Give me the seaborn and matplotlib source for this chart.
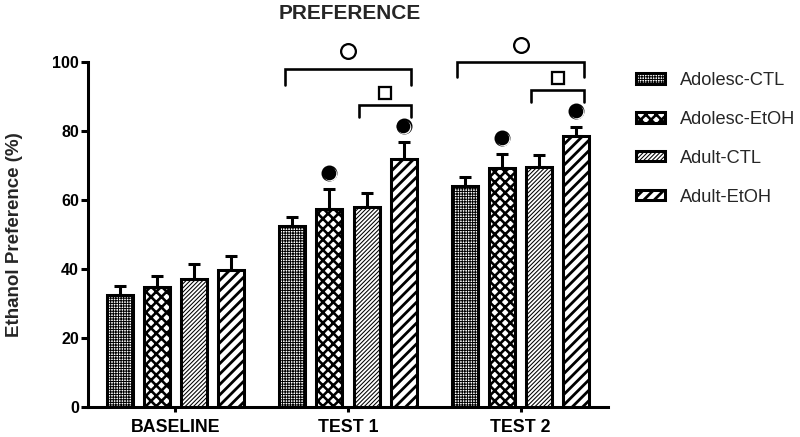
import numpy as np
import pandas as pd
import matplotlib
matplotlib.use("Agg")
import matplotlib.pyplot as plt
import matplotlib.transforms as mtrans
from matplotlib.patches import Patch
import seaborn as sns

# ---------------- data ----------------
phases = ["BASELINE", "TEST 1", "TEST 2"]
groups = ["Adolesc-CTL", "Adolesc-EtOH", "Adult-CTL", "Adult-EtOH"]
adolesc_ctl = [32.5, 52.6, 64.2]
adolesc_etoh = [34.7, 57.5, 69.2]
adult_ctl = [37.1, 58.1, 69.6]
adult_etoh = [39.6, 72.0, 78.6]
adolesc_ctl_sem = [2.7, 2.5, 2.4]
adolesc_etoh_sem = [3.4, 5.7, 4.1]
adult_ctl_sem = [4.3, 4.0, 3.3]
adult_etoh_sem = [4.1, 4.8, 2.6]

means = [adolesc_ctl, adolesc_etoh, adult_ctl, adult_etoh]
sems = [adolesc_ctl_sem, adolesc_etoh_sem, adult_ctl_sem, adult_etoh_sem]

rows = []
for g, vals in zip(groups, means):
    for p, v in zip(phases, vals):
        rows.append({"phase": p, "group": g, "value": v})
df = pd.DataFrame(rows)

# ---------------- style ----------------
DPI = 125
sns.set_style("white")
plt.rcParams["font.family"] = ["Liberation Sans", "DejaVu Sans"]
plt.rcParams["hatch.color"] = "black"

LW = 1.75  # pt (about 3 px)
fig = plt.figure(figsize=(800 / DPI, 437 / DPI), dpi=DPI)
ax = fig.add_axes([88 / 800, 1 - 407 / 437, 520 / 800, (407 - 62) / 437])

sns.barplot(data=df, x="phase", y="value", hue="group", order=phases,
            hue_order=groups, palette=["white"] * 4, width=0.86, gap=0.3,
            errorbar=None, edgecolor="black", linewidth=LW, legend=False,
            saturation=1, ax=ax)

hatches = ["+" * 8, "xxxx", "/" * 10, "////"]
hatch_lw = [0.55, 1.5, 0.6, 1.6]

for cont, h, hl, errs in zip(ax.containers, hatches, hatch_lw, sems):
    for bar, e in zip(cont, errs):
        bar.set_hatch(h)
        bar.set_facecolor("white")
        bar.set_edgecolor("black")
        if hasattr(bar, "set_hatch_linewidth"):
            bar.set_hatch_linewidth(hl)
        x = bar.get_x() + bar.get_width() / 2
        y = bar.get_height()
        ax.errorbar([x], [y], yerr=[[0], [e]], fmt="none", ecolor="black",
                    elinewidth=LW, capsize=3.3, capthick=LW, zorder=3)

ax.set_ylim(0, 100)
ax.set_xlim(-0.506, 2.506)
ax.set_yticks([0, 20, 40, 60, 80, 100])
ax.set_xlabel("")
ax.set_ylabel("Ethanol Preference (%)", fontsize=10.8, fontweight="bold")
ax.yaxis.set_label_coords(-0.1405, 0.5)
ax.yaxis.label.set_va("center")

for s in ["top", "right"]:
    ax.spines[s].set_visible(False)
for s in ["left", "bottom"]:
    ax.spines[s].set_linewidth(LW)
    ax.spines[s].set_color("black")

ax.tick_params(axis="y", direction="out", length=4, width=LW, pad=1.2,
               labelsize=9.2, left=True, colors="black")
ax.tick_params(axis="x", direction="out", length=3, width=LW, pad=4,
               labelsize=10.2, bottom=True, colors="black")
for lab in ax.get_xticklabels() + ax.get_yticklabels():
    lab.set_fontweight("bold")

# ---------------- annotations ----------------
bars = [list(c) for c in ax.containers]  # bars[group][phase]


def bar_top(gi, pi):
    return means[gi][pi] + sems[gi][pi]


def bar_cx(gi, pi):
    b = bars[gi][pi]
    return b.get_x() + b.get_width() / 2


def sphere(x, y):
    kw = dict(clip_on=False, zorder=6, linestyle="none", marker="o")
    ax.plot([x], [y], color="black", markersize=8.2, **kw)
    tr1 = mtrans.offset_copy(ax.transData, fig=fig, x=0.8, y=-0.8, units="dots")
    ax.plot([x], [y], color="white", markersize=6.8, transform=tr1, **kw)
    tr2 = mtrans.offset_copy(ax.transData, fig=fig, x=-0.3, y=0.3, units="dots")
    ax.plot([x], [y], color="black", markersize=6.8, transform=tr2, **kw)


def bracket(x0, x1, ytop, ybot):
    ax.plot([x0, x0, x1, x1], [ybot, ytop, ytop, ybot], color="black",
            lw=1.5, clip_on=False, zorder=5, solid_joinstyle="miter")


sig_phases = [1, 2]
big_levels = [(97.9, 93.3, 103.3), (99.9, 95.7, 104.9)]
small_levels = [(87.5, 84.0, 90.9), (91.9, 88.5, 95.4)]

for pi, bl, sl in zip(sig_phases, big_levels, small_levels):
    b0 = bars[0][pi]
    b2 = bars[2][pi]
    b3 = bars[3][pi]
    w = b0.get_width()
    xl = b0.get_x() + 0.2 * w
    xr = b3.get_x() + 0.8 * w
    bracket(xl, xr, bl[0], bl[1])
    ax.plot([(xl + xr) / 2], [bl[2]], marker="o", markersize=8.5,
            markerfacecolor="white", markeredgecolor="black",
            markeredgewidth=1.3, clip_on=False, zorder=6)
    xs = b2.get_x() + 0.2 * w
    bracket(xs, xr, sl[0], sl[1])
    ax.plot([(xs + xr) / 2], [sl[2]], marker="s", markersize=7,
            markerfacecolor="white", markeredgecolor="black",
            markeredgewidth=1.3, clip_on=False, zorder=6)
    for gi in [1, 3]:
        sphere(bar_cx(gi, pi), bar_top(gi, pi) + 4.6)

# ---------------- title & legend ----------------
fig.text(350 / 800, 1 - 13.3 / 437, "PREFERENCE", ha="center", va="center",
         fontsize=12, fontweight="bold")

handles = [Patch(facecolor="white", edgecolor="black", hatch=h, linewidth=LW,
                 label=g) for h, g in zip(hatches, groups)]
leg = fig.legend(handles=handles, loc="upper left",
                 bbox_to_anchor=(636 / 800, 1 - 72 / 437), frameon=False,
                 fontsize=10.5, handlelength=1.6, handleheight=0.5,
                 handletextpad=0.8, labelspacing=1.2, borderpad=0,
                 borderaxespad=0)
for h, hl in zip(leg.legend_handles, hatch_lw):
    if hasattr(h, "set_hatch_linewidth"):
        h.set_hatch_linewidth(hl)

fig.savefig("out.png", dpi=DPI, facecolor="white")
